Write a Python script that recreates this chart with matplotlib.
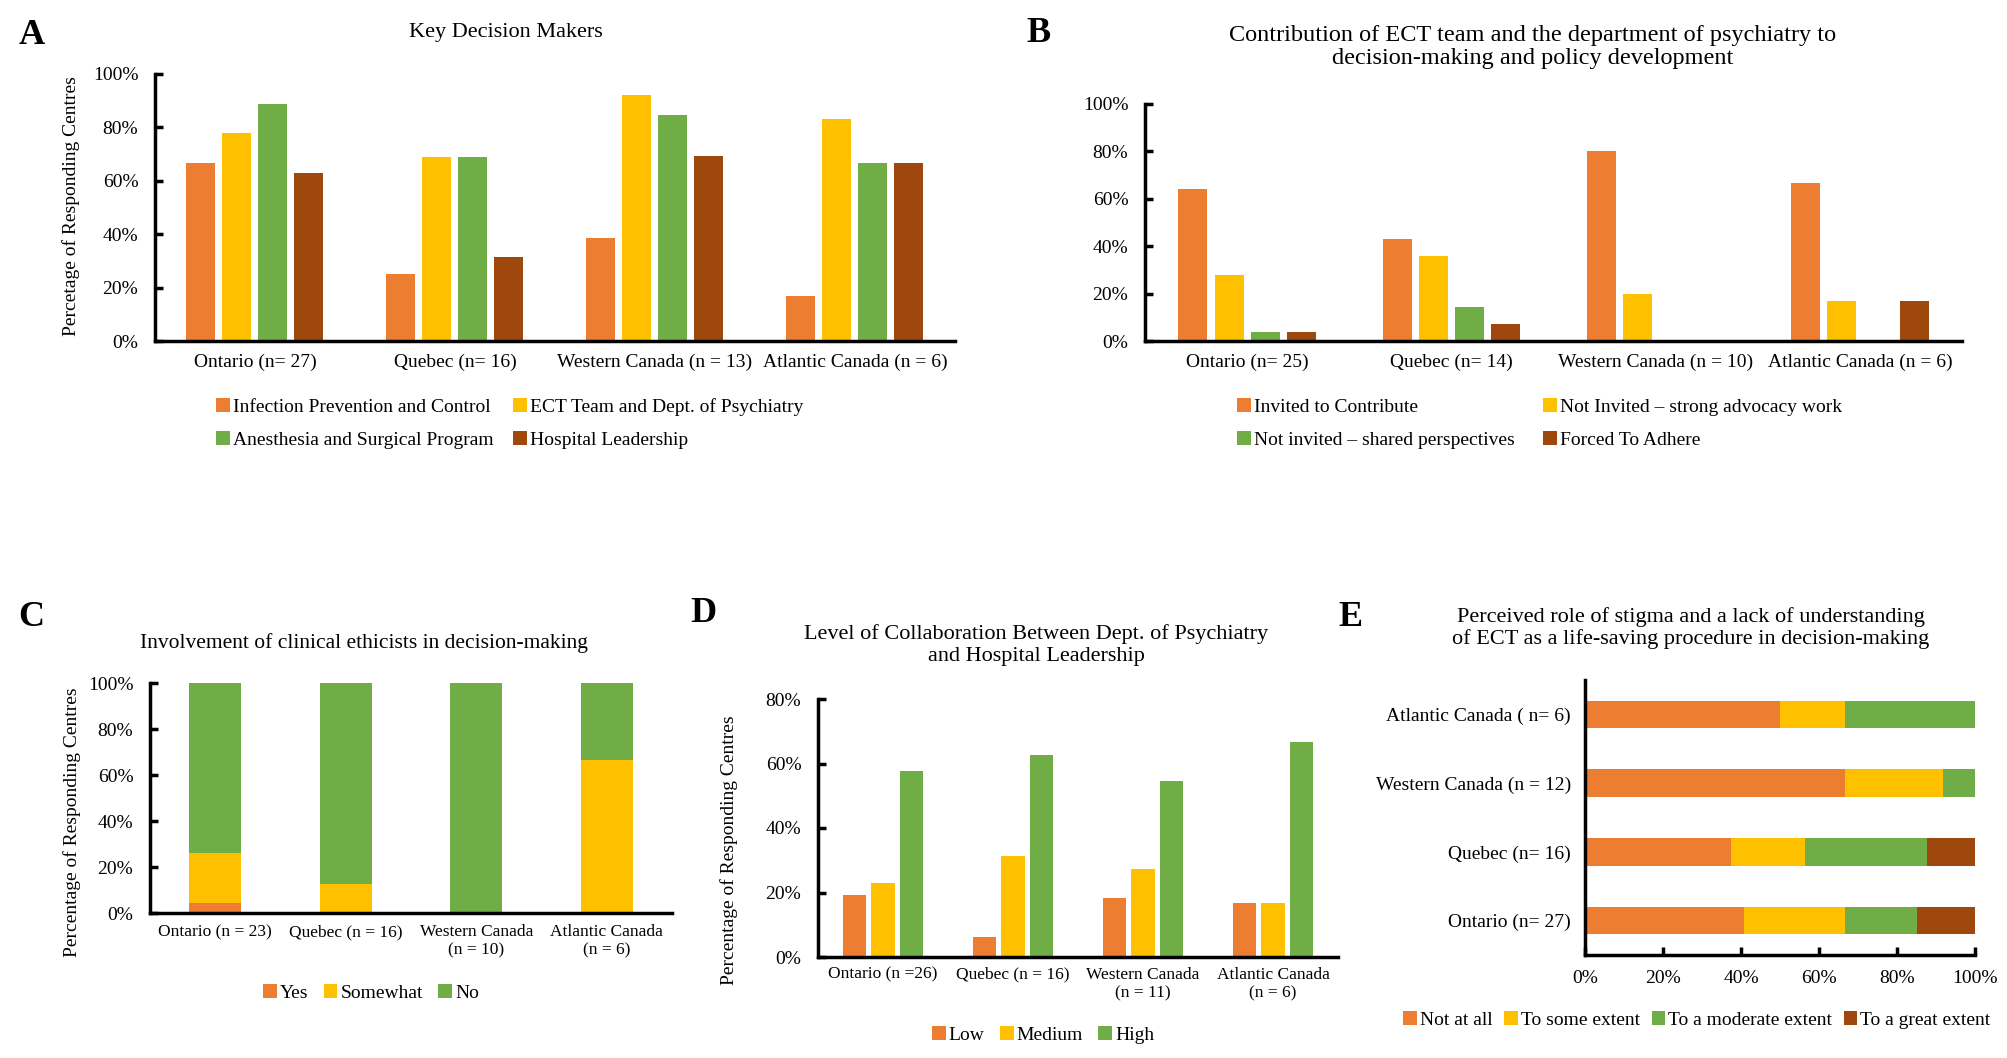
import numpy as np
import matplotlib
matplotlib.use("Agg")
import matplotlib.pyplot as plt
from matplotlib.ticker import PercentFormatter
from matplotlib.patches import Patch

plt.rcParams['font.family'] = ['Liberation Serif', 'DejaVu Serif']

# colours (Excel palette)
ORANGE = "#ED7D31"
YELLOW = "#FFC000"
GREEN = "#70AD47"
BROWN = "#9E480E"

# ---- data ----
# A: key decision makers
cats_a = ["Ontario (n= 27)", "Quebec (n= 16)", "Western Canada (n = 13)", "Atlantic Canada (n = 6)"]
labels_a = ["Infection Prevention and Control", "ECT Team and Dept. of Psychiatry",
            "Anesthesia and Surgical Program", "Hospital Leadership"]
ipc = [66.7, 25.0, 38.5, 16.7]
ect_team = [77.8, 68.8, 92.3, 83.3]
anesthesia = [88.9, 68.8, 84.6, 66.7]
leadership = [63.0, 31.3, 69.2, 66.7]

# B: contribution of ECT team
cats_b = ["Ontario (n= 25)", "Quebec (n= 14)", "Western Canada (n = 10)", "Atlantic Canada (n = 6)"]
labels_b = ["Invited to Contribute", "Not Invited \u2013 strong advocacy work",
            "Not invited \u2013 shared perspectives", "Forced To Adhere"]
invited = [64.0, 42.9, 80.0, 66.7]
advocacy = [28.0, 35.7, 20.0, 16.7]
shared = [4.0, 14.3, 0.0, 0.0]
forced = [4.0, 7.1, 0.0, 16.7]

# C: clinical ethicists
cats_c = ["Ontario (n = 23)", "Quebec (n = 16)", "Western Canada\n(n = 10)", "Atlantic Canada\n(n = 6)"]
labels_c = ["Yes", "Somewhat", "No"]
eth_yes = [4.3, 0.0, 0.0, 0.0]
eth_some = [21.7, 12.5, 0.0, 66.7]
eth_no = [73.9, 87.5, 100.0, 33.3]

# D: collaboration level
cats_d = ["Ontario (n =26)", "Quebec (n = 16)", "Western Canada\n(n = 11)", "Atlantic Canada\n(n = 6)"]
labels_d = ["Low", "Medium", "High"]
low = [19.2, 6.3, 18.2, 16.7]
medium = [23.1, 31.3, 27.3, 16.7]
high = [57.7, 62.5, 54.5, 66.7]

# E: stigma (bottom to top)
cats_e = ["Ontario (n= 27)", "Quebec (n= 16)", "Western Canada (n = 12)", "Atlantic Canada ( n= 6)"]
labels_e = ["Not at all", "To some extent", "To a moderate extent", "To a great extent"]
not_at_all = [40.7, 37.5, 66.7, 50.0]
some_extent = [25.9, 18.8, 25.0, 16.7]
moderate = [18.5, 31.3, 8.3, 33.3]
great = [14.8, 12.5, 0.0, 0.0]

W, H = 2008, 1058
fig = plt.figure(figsize=(W / 100, H / 100), dpi=100)

TICK_FS = 14
CAT_FS = 14
TITLE_FS = 16
LEG_FS = 14


def add_ax(l, t, r, b):
    return fig.add_axes([l / W, 1 - b / H, (r - l) / W, (b - t) / H])


def style(ax):
    ax.spines['top'].set_visible(False)
    ax.spines['right'].set_visible(False)
    ax.spines['left'].set_linewidth(2.5)
    ax.spines['bottom'].set_linewidth(2.5)
    ax.tick_params(labelsize=TICK_FS)


def vbar_axes(ax, cats, ymax, step, cat_fs=CAT_FS):
    style(ax)
    ax.set_xlim(-0.5, len(cats) - 0.5)
    ax.set_ylim(0, ymax)
    ax.set_yticks(np.arange(0, ymax + 1, step))
    ax.yaxis.set_major_formatter(PercentFormatter(xmax=100, decimals=0))
    ax.set_xticks(np.arange(len(cats)))
    ax.set_xticklabels(cats, fontsize=cat_fs)
    ax.tick_params(axis='x', length=0, pad=9)
    ax.tick_params(axis='y', direction='in', length=6, width=2.5, pad=12)


def grouped(ax, series, colors, width, step):
    x = np.arange(4)
    n = len(series)
    for i, (vals, c) in enumerate(zip(series, colors)):
        ax.bar(x + (i - (n - 1) / 2) * step, vals, width, color=c)


def handles(colors):
    return [Patch(facecolor=c, edgecolor='none') for c in colors]


def legend_col(hs, labs, x, y, spacing=0.8):
    fig.legend(hs, labs, loc='upper left', bbox_to_anchor=(x / W, 1 - y / H),
               frameon=False, fontsize=LEG_FS, handlelength=0.7, handleheight=0.7,
               handletextpad=0.15, labelspacing=spacing, borderpad=0, borderaxespad=0)


def legend_row(hs, labs, xc, yc, colsp=0.8):
    fig.legend(hs, labs, loc='center', bbox_to_anchor=(xc / W, 1 - yc / H), ncol=len(labs),
               frameon=False, fontsize=LEG_FS, handlelength=0.7, handleheight=0.7,
               handletextpad=0.15, columnspacing=colsp, borderpad=0, borderaxespad=0)


def panel_text(x, y, s, size=TITLE_FS, weight='normal', ha='center', rot=0):
    fig.text(x / W, 1 - y / H, s, fontsize=size, fontweight=weight, ha=ha, va='center',
             rotation=rot, linespacing=1.15)


# ---- panel A ----
ax = add_ax(155, 74, 955, 341)
vbar_axes(ax, cats_a, 100, 20)
grouped(ax, [ipc, ect_team, anesthesia, leadership], [ORANGE, YELLOW, GREEN, BROWN], 0.145, 0.18)
panel_text(32, 35, "A", size=26, weight='bold')
panel_text(506, 33, "Key Decision Makers")
panel_text(71, 206, "Percetage of Responding Centres", size=14, rot=90)
hs = handles([ORANGE, YELLOW, GREEN, BROWN])
legend_col([hs[0], hs[2]], [labels_a[0], labels_a[2]], 216, 398)
legend_col([hs[1], hs[3]], [labels_a[1], labels_a[3]], 513, 398)

# ---- panel B ----
ax = add_ax(1145, 104, 1962, 341)
vbar_axes(ax, cats_b, 100, 20)
grouped(ax, [invited, advocacy, shared, forced], [ORANGE, YELLOW, GREEN, BROWN], 0.142, 0.177)
panel_text(1039, 33, "B", size=26, weight='bold')
panel_text(1533, 47, "Contribution of ECT team and the department of psychiatry to\n"
                     "decision-making and policy development", size=17.5)
legend_col([hs[0], hs[2]], [labels_b[0], labels_b[2]], 1237, 398)
legend_col([hs[1], hs[3]], [labels_b[1], labels_b[3]], 1543, 398)

# ---- panel C ----
ax = add_ax(150, 683, 672, 913)
vbar_axes(ax, cats_c, 100, 20, cat_fs=12.5)
x = np.arange(4)
ax.bar(x, eth_yes, 0.4, color=ORANGE)
ax.bar(x, eth_some, 0.4, bottom=eth_yes, color=YELLOW)
ax.bar(x, eth_no, 0.4, bottom=np.add(eth_yes, eth_some), color=GREEN)
ax.tick_params(axis='x', pad=8)
panel_text(31, 617, "C", size=26, weight='bold')
panel_text(364, 643, "Involvement of clinical ethicists in decision-making", size=15.5)
panel_text(72, 822, "Percentage of Responding Centres", size=14, rot=90)
legend_row(handles([ORANGE, YELLOW, GREEN]), labels_c, 371, 993)

# ---- panel D ----
ax = add_ax(818, 699, 1338, 957)
vbar_axes(ax, cats_d, 80, 20, cat_fs=12.5)
grouped(ax, [low, medium, high], [ORANGE, YELLOW, GREEN], 0.18, 0.22)
ax.tick_params(axis='x', pad=7)
panel_text(703, 613, "D", size=26, weight='bold')
panel_text(1036, 645, "Level of Collaboration Between Dept. of Psychiatry\nand Hospital Leadership")
panel_text(729, 850, "Percentage of Responding Centres", size=14, rot=90)
legend_row(handles([ORANGE, YELLOW, GREEN]), labels_d, 1043, 1035)

# ---- panel E ----
ax = add_ax(1585, 680, 1975, 955)
style(ax)
y = np.arange(4)
left = np.zeros(4)
for vals, c in zip([not_at_all, some_extent, moderate, great], [ORANGE, YELLOW, GREEN, BROWN]):
    ax.barh(y, vals, 0.4, left=left, color=c)
    left = left + np.array(vals)
ax.set_xlim(0, 100)
ax.set_ylim(-0.5, 3.5)
ax.set_xticks(np.arange(0, 101, 20))
ax.xaxis.set_major_formatter(PercentFormatter(xmax=100, decimals=0))
ax.set_yticks(y)
ax.set_yticklabels(cats_e, fontsize=CAT_FS)
ax.tick_params(axis='y', length=0, pad=10)
ax.tick_params(axis='x', direction='in', length=6, width=2.5, pad=11)
panel_text(1351, 617, "E", size=26, weight='bold')
panel_text(1691, 628, "Perceived role of stigma and a lack of understanding\n"
                      "of ECT as a life-saving procedure in decision-making")
legend_row(handles([ORANGE, YELLOW, GREEN, BROWN]), labels_e, 1697, 1020, colsp=0.6)

fig.savefig("out.png", dpi=100, facecolor='white')
